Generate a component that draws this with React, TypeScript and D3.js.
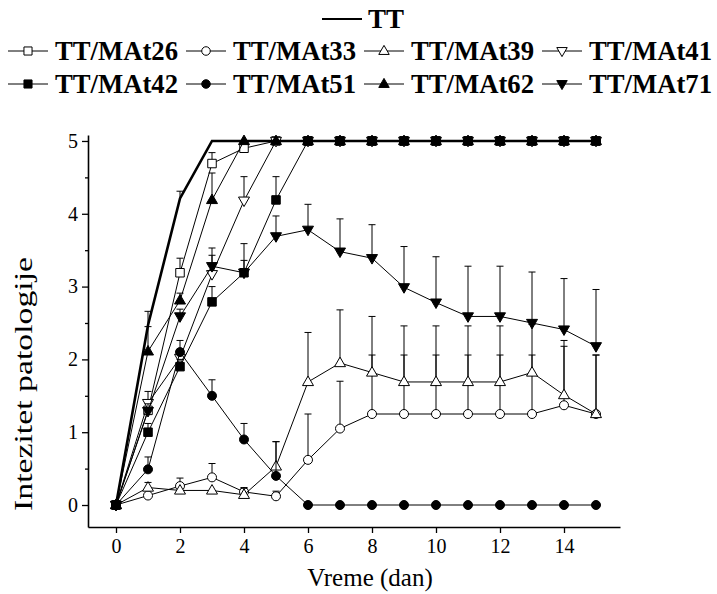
import React, { useEffect, useRef } from "react";
import * as d3 from "d3";

// ---- data ----
const days = [0, 1, 2, 3, 4, 5, 6, 7, 8, 9, 10, 11, 12, 13, 14, 15];

const ttVals = [0, 2.47, 4.21, 5, 5, 5, 5, 5, 5, 5, 5, 5, 5, 5, 5, 5];
const ttErr = [0, 0.19, 0.1, 0, 0, 0, 0, 0, 0, 0, 0, 0, 0, 0, 0, 0];

const mat26Vals = [0, 1.3, 3.19, 4.69, 4.9, 5, 5, 5, 5, 5, 5, 5, 5, 5, 5, 5];
const mat26Err = [0, 0.12, 0.2, 0.15, 0, 0, 0, 0, 0, 0, 0, 0, 0, 0, 0, 0];

const mat33Vals = [0, 0.13, 0.26, 0.38, 0.18, 0.12, 0.62, 1.05, 1.25, 1.25, 1.25, 1.25, 1.25, 1.25, 1.37, 1.25];
const mat33Err = [0, 0, 0.11, 0.19, 0.06, 0.07, 0.63, 0.65, 0.81, 0.81, 0.81, 0.81, 0.81, 0.81, 0.81, 0.81];

const mat39Vals = [0, 0.24, 0.2, 0.2, 0.14, 0.53, 1.69, 1.95, 1.82, 1.69, 1.69, 1.69, 1.69, 1.82, 1.51, 1.25];
const mat39Err = [0, 0.07, 0, 0, 0.09, 0.34, 0.68, 0.73, 0.77, 0.77, 0.77, 0.77, 0.77, 0.66, 0.75, 0.81];

const mat41Vals = [0, 1.4, 2.02, 3.17, 4.18, 5, 5, 5, 5, 5, 5, 5, 5, 5, 5, 5];
const mat41Err = [0, 0.16, 0.12, 0.36, 0.33, 0, 0, 0, 0, 0, 0, 0, 0, 0, 0, 0];

const mat42Vals = [0, 1.0, 1.9, 2.79, 3.19, 4.19, 5, 5, 5, 5, 5, 5, 5, 5, 5, 5];
const mat42Err = [0, 0.12, 0.1, 0.21, 0.17, 0.32, 0, 0, 0, 0, 0, 0, 0, 0, 0, 0];

const mat51Vals = [0, 0.49, 2.1, 1.5, 0.9, 0.4, 0, 0, 0, 0, 0, 0, 0, 0, 0, 0];
const mat51Err = [0, 0.17, 0.16, 0.22, 0.22, 0.47, 0, 0, 0, 0, 0, 0, 0, 0, 0, 0];

const mat62Vals = [0, 2.11, 2.81, 4.19, 5, 5, 5, 5, 5, 5, 5, 5, 5, 5, 5, 5];
const mat62Err = [0, 0.34, 0.1, 0.37, 0, 0, 0, 0, 0, 0, 0, 0, 0, 0, 0, 0];

const mat71Vals = [0, 1.29, 2.59, 3.28, 3.19, 3.69, 3.78, 3.48, 3.39, 2.99, 2.78, 2.59, 2.59, 2.5, 2.41, 2.18];
const mat71Err = [0, 0.1, 0.1, 0.15, 0.4, 0.28, 0.35, 0.45, 0.46, 0.56, 0.63, 0.69, 0.69, 0.7, 0.7, 0.78];

const xTicks = [0, 2, 4, 6, 8, 10, 12, 14];
const yTicks = [0, 1, 2, 3, 4, 5];
const yMinorTicks = [0.5, 1.5, 2.5, 3.5, 4.5];

type Shape = "square" | "circle" | "triUp" | "triDown";
interface Series { name: string; vals: number[]; err: number[]; shape: Shape; filled: boolean; }

const series: Series[] = [
  { name: "TT/MAt26", vals: mat26Vals, err: mat26Err, shape: "square", filled: false },
  { name: "TT/MAt33", vals: mat33Vals, err: mat33Err, shape: "circle", filled: false },
  { name: "TT/MAt39", vals: mat39Vals, err: mat39Err, shape: "triUp", filled: false },
  { name: "TT/MAt41", vals: mat41Vals, err: mat41Err, shape: "triDown", filled: false },
  { name: "TT/MAt42", vals: mat42Vals, err: mat42Err, shape: "square", filled: true },
  { name: "TT/MAt51", vals: mat51Vals, err: mat51Err, shape: "circle", filled: true },
  { name: "TT/MAt62", vals: mat62Vals, err: mat62Err, shape: "triUp", filled: true },
  { name: "TT/MAt71", vals: mat71Vals, err: mat71Err, shape: "triDown", filled: true },
];

const FONT = "Liberation Serif, DejaVu Serif, serif";

const x = d3.scaleLinear().domain([-0.875, 15.75]).range([88, 620]);
const y = d3.scaleLinear().domain([-0.302, 5.082]).range([527, 135]);

function markerPath(shape: Shape, s: number): string {
  const p = d3.path();
  if (shape === "square") {
    p.rect(-s / 2, -s / 2, s, s);
  } else if (shape === "circle") {
    p.arc(0, 0, s / 2, 0, Math.PI * 2);
  } else if (shape === "triUp") {
    const h = s * 0.866;
    p.moveTo(0, -h * 0.62); p.lineTo(s / 2, h * 0.38); p.lineTo(-s / 2, h * 0.38); p.closePath();
  } else {
    const h = s * 0.866;
    p.moveTo(0, h * 0.62); p.lineTo(s / 2, -h * 0.38); p.lineTo(-s / 2, -h * 0.38); p.closePath();
  }
  return p.toString();
}

function markerSize(shape: Shape): number {
  if (shape === "square") return 8.5;
  if (shape === "circle") return 9;
  return 11;
}

function Marker({ shape, filled, cx, cy, scale = 1 }: { shape: Shape; filled: boolean; cx: number; cy: number; scale?: number }) {
  return (
    <path
      d={markerPath(shape, markerSize(shape) * scale)}
      transform={`translate(${cx},${cy})`}
      fill={filled ? "#000" : "#fff"}
      stroke="#000"
      strokeWidth={1}
    />
  );
}

export default function App() {
  const xAxisRef = useRef<SVGGElement>(null);
  const yAxisRef = useRef<SVGGElement>(null);
  const yMinorRef = useRef<SVGGElement>(null);

  useEffect(() => {
    const xa = d3.axisBottom(x).tickValues(xTicks).tickSize(6).tickSizeOuter(0).tickPadding(6).tickFormat(d3.format("d"));
    const ya = d3.axisLeft(y).tickValues(yTicks).tickSize(6).tickSizeOuter(0).tickPadding(4).tickFormat(d3.format("d"));
    const ym = d3.axisLeft(y).tickValues(yMinorTicks).tickSize(3).tickSizeOuter(0).tickFormat(() => "");
    const gx = d3.select(xAxisRef.current!).call(xa as any);
    const gy = d3.select(yAxisRef.current!).call(ya as any);
    const gm = d3.select(yMinorRef.current!).call(ym as any);
    [gx, gy, gm].forEach((g) => {
      g.attr("font-family", FONT).attr("font-size", 20);
      g.selectAll("path.domain").attr("stroke", "#000").attr("stroke-width", 1.6);
      g.selectAll(".tick line").attr("stroke", "#000").attr("stroke-width", 1.3);
      g.selectAll("text").attr("font-family", FONT).attr("font-size", 20).attr("fill", "#000");
    });
    gm.select("path.domain").remove();
  }, []);

  const lineGen = d3.line<number>().x((_, i) => x(days[i])).y((v) => y(v));

  const legendX = [8, 186, 364, 542];
  const legendRows = [60, 93];

  return (
    <svg width={717} height={594} style={{ position: "absolute", left: 0, top: 0, background: "#fff", fontFamily: FONT }}>
      <rect width={717} height={594} fill="#fff" />
      {/* Legend */}
      <g style={{ fontFamily: FONT, fontWeight: "bold", fontSize: "27px" }}>
        <line x1={322} x2={362} y1={19} y2={19} stroke="#000" strokeWidth={2.2} />
        <text x={368} y={28}>TT</text>
        {series.map((s, i) => {
          const lx = legendX[i % 4];
          const ly = legendRows[Math.floor(i / 4)];
          const cy = ly - 9;
          return (
            <g key={s.name}>
              <line x1={lx} x2={lx + 40} y1={cy} y2={cy} stroke="#000" strokeWidth={1} />
              <Marker shape={s.shape} filled={s.filled} cx={lx + 20} cy={cy} scale={0.95} />
              <text x={lx + 47} y={ly} textLength={123} lengthAdjust="spacingAndGlyphs">{s.name}</text>
            </g>
          );
        })}
      </g>

      {/* Axes */}
      <g ref={xAxisRef} transform={`translate(0,527)`} />
      <g ref={yAxisRef} transform={`translate(88,0)`} />
      <g ref={yMinorRef} transform={`translate(88,0)`} />

      {/* Axis titles */}
      <text x={370} y={586} textAnchor="middle" style={{ fontFamily: FONT, fontSize: "25px" }}>Vreme (dan)</text>
      <text transform={`translate(32,384) rotate(-90)`} textAnchor="middle" style={{ fontFamily: FONT, fontSize: "26px" }} textLength={254} lengthAdjust="spacingAndGlyphs">Intezitet patologije</text>

      {/* TT thick line */}
      <path d={lineGen(ttVals) || ""} fill="none" stroke="#000" strokeWidth={2.6} />
      {ttVals.map((v, i) => ttErr[i] > 0 ? (
        <g key={"tte" + i} stroke="#000" strokeWidth={1}>
          <line x1={x(days[i])} x2={x(days[i])} y1={y(v)} y2={y(v + ttErr[i])} />
          <line x1={x(days[i]) - 3.5} x2={x(days[i]) + 3.5} y1={y(v + ttErr[i])} y2={y(v + ttErr[i])} />
        </g>
      ) : null)}

      {/* Series */}
      {series.map((s) => (
        <g key={s.name}>
          <path d={lineGen(s.vals) || ""} fill="none" stroke="#000" strokeWidth={1} />
          {s.vals.map((v, i) => s.err[i] > 0 ? (
            <g key={"e" + i} stroke="#000" strokeWidth={1}>
              <line x1={x(days[i])} x2={x(days[i])} y1={y(v)} y2={y(v + s.err[i])} />
              <line x1={x(days[i]) - 3.5} x2={x(days[i]) + 3.5} y1={y(v + s.err[i])} y2={y(v + s.err[i])} />
            </g>
          ) : null)}
          {s.vals.map((v, i) => (
            <Marker key={"m" + i} shape={s.shape} filled={s.filled} cx={x(days[i])} cy={y(v)} />
          ))}
        </g>
      ))}
    </svg>
  );
}
